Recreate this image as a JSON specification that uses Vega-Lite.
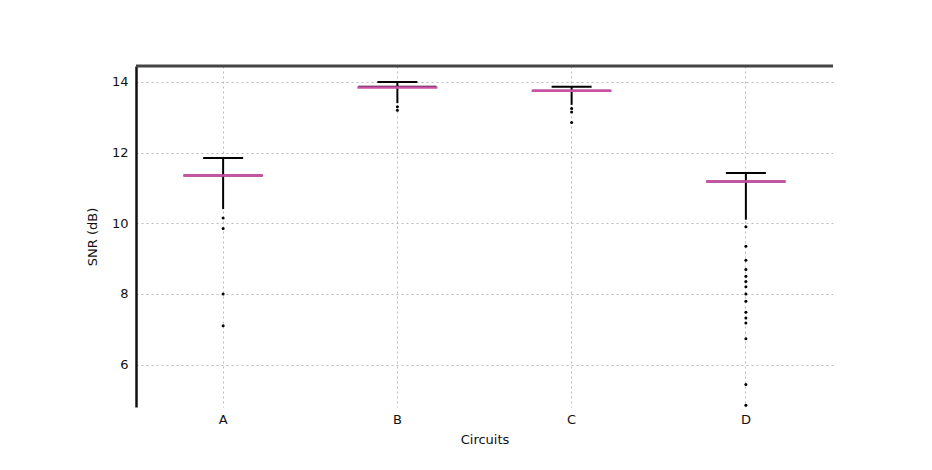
{
  "$schema": "https://vega.github.io/schema/vega-lite/v6.json",
  "autosize": {"type": "none"},
  "width": 697,
  "height": 341,
  "padding": {"left": 136, "top": 66, "right": 99, "bottom": 63},
  "background": "white",
  "config": {
    "view": {"stroke": null},
    "font": "DejaVu Sans",
    "axis": {"labelFont": "DejaVu Sans", "titleFont": "DejaVu Sans", "labelFontSize": 13, "titleFontSize": 13, "titleFontWeight": "normal", "labelColor": "#111", "titleColor": "#111"}
  },
  "datasets": {
    "summary": [
      {"circuit": "A", "lower": 10.4, "q1": 11.35, "median": 11.35, "q3": 11.35, "upper": 11.85},
      {"circuit": "B", "lower": 13.4, "q1": 13.86, "median": 13.84, "q3": 13.86, "upper": 14.0},
      {"circuit": "C", "lower": 13.35, "q1": 13.75, "median": 13.75, "q3": 13.75, "upper": 13.86},
      {"circuit": "D", "lower": 10.1, "q1": 11.18, "median": 11.18, "q3": 11.18, "upper": 11.42}
    ],
    "fliers": [
      {"circuit": "A", "snr": 10.15},
      {"circuit": "A", "snr": 9.85},
      {"circuit": "A", "snr": 8.0},
      {"circuit": "A", "snr": 7.1},
      {"circuit": "B", "snr": 13.3},
      {"circuit": "B", "snr": 13.2},
      {"circuit": "C", "snr": 13.25},
      {"circuit": "C", "snr": 13.15},
      {"circuit": "C", "snr": 12.85},
      {"circuit": "D", "snr": 9.9},
      {"circuit": "D", "snr": 9.35},
      {"circuit": "D", "snr": 8.95},
      {"circuit": "D", "snr": 8.69},
      {"circuit": "D", "snr": 8.5},
      {"circuit": "D", "snr": 8.35},
      {"circuit": "D", "snr": 8.2},
      {"circuit": "D", "snr": 8.0},
      {"circuit": "D", "snr": 7.79},
      {"circuit": "D", "snr": 7.48},
      {"circuit": "D", "snr": 7.32},
      {"circuit": "D", "snr": 7.18},
      {"circuit": "D", "snr": 6.73},
      {"circuit": "D", "snr": 5.44},
      {"circuit": "D", "snr": 4.85}
    ],
    "frame": [{"top": 14.45}]
  },
  "layer": [
    {
      "data": {"name": "summary"},
      "mark": {"type": "rule", "color": "black", "strokeWidth": 2},
      "encoding": {
        "x": {"field": "circuit", "type": "nominal", "scale": {"type": "band", "domain": ["A", "B", "C", "D"], "paddingInner": 0, "paddingOuter": 0},
          "axis": {"orient": "bottom", "title": "Circuits", "labelAngle": 0, "domain": false, "ticks": false, "labelPadding": 6, "titlePadding": 7, "grid": true, "bandPosition": 0.5, "gridColor": "#bbbbbb", "gridDash": [2, 3], "gridWidth": 1}},
        "y": {"field": "lower", "type": "quantitative", "scale": {"domain": [4.8, 14.45], "nice": false, "zero": false},
          "axis": {"title": "SNR (dB)", "values": [6, 8, 10, 12, 14], "domainColor": "#111", "domainWidth": 2.5, "ticks": false, "labelPadding": 8, "titlePadding": 12, "grid": true, "gridColor": "#bbbbbb", "gridDash": [2, 3], "gridWidth": 1}},
        "y2": {"field": "upper"}
      }
    },
    {
      "data": {"name": "summary"},
      "mark": {"type": "tick", "color": "black", "size": 78, "thickness": 2, "opacity": 1},
      "encoding": {
        "x": {"field": "circuit", "type": "nominal"},
        "y": {"field": "q3", "type": "quantitative"}
      }
    },
    {
      "data": {"name": "summary"},
      "mark": {"type": "tick", "color": "black", "size": 40, "thickness": 2, "opacity": 1},
      "encoding": {
        "x": {"field": "circuit", "type": "nominal"},
        "y": {"field": "upper", "type": "quantitative"}
      }
    },
    {
      "data": {"name": "summary"},
      "mark": {"type": "tick", "color": "#cc50a8", "size": 80, "thickness": 2.5, "opacity": 1},
      "encoding": {
        "x": {"field": "circuit", "type": "nominal"},
        "y": {"field": "median", "type": "quantitative"}
      }
    },
    {
      "data": {"name": "fliers"},
      "mark": {"type": "circle", "color": "black", "size": 9, "opacity": 1},
      "encoding": {
        "x": {"field": "circuit", "type": "nominal"},
        "y": {"field": "snr", "type": "quantitative"}
      }
    },
    {
      "data": {"name": "frame"},
      "mark": {"type": "rule", "color": "#444", "strokeWidth": 3},
      "encoding": {
        "y": {"field": "top", "type": "quantitative"}
      }
    }
  ]
}
